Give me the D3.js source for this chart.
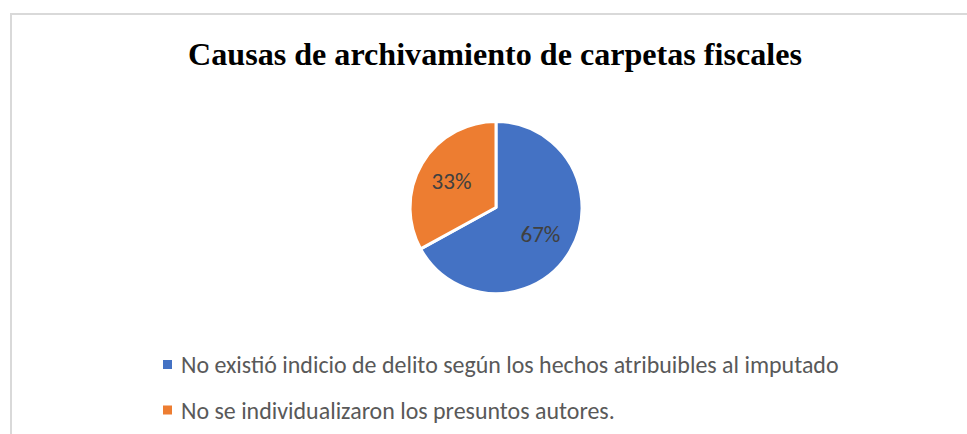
<!DOCTYPE html>
<html><head><meta charset="utf-8">
<script src="https://cdn.jsdelivr.net/npm/d3@7"></script>
<style>html,body{margin:0;padding:0;background:#fff;}svg{display:block;}</style>
</head><body>
<svg id="c" width="967" height="434"></svg>
<script>
const title = "Causas de archivamiento de carpetas fiscales";
const categories = ["No existió indicio de delito según los hechos atribuibles al imputado", "No se individualizaron los presuntos autores."];
const values = [67, 33];
const labels = ["67%", "33%"];
const colors = ["#4472C4", "#ED7D31"];

const svg = d3.select("#c");
svg.append("rect").attr("x", 11).attr("y", 14).attr("width", 1000).attr("height", 500)
  .attr("fill", "#fff").attr("stroke", "#d9d9d9").attr("stroke-width", 2);

function fit(sel, target) {
  const w = sel.node().getComputedTextLength();
  const fs = parseFloat(sel.attr("font-size"));
  sel.attr("font-size", fs * target / w);
}

const t = svg.append("text").attr("x", 495).attr("y", 65).attr("text-anchor", "middle")
  .attr("font-family", "'Liberation Serif','Times New Roman',serif").attr("font-weight", "bold")
  .attr("font-size", 32).attr("fill", "#000").text(title);
fit(t, 614);

const cx = 496, cy = 207.5, R = 86;
const pie = d3.pie().sort(null).value(d => d)(values);
const arc = d3.arc().innerRadius(0).outerRadius(R);
const labelArc = d3.arc().innerRadius(R * 0.6).outerRadius(R * 0.6);
const g = svg.append("g").attr("transform", `translate(${cx},${cy})`);
g.selectAll("path").data(pie).join("path")
  .attr("d", arc).attr("fill", (d, i) => colors[i])
  .attr("stroke", "#fff").attr("stroke-width", 3).attr("stroke-linejoin", "round");
const lt = g.selectAll("text").data(pie).join("text")
  .attr("transform", d => `translate(${labelArc.centroid(d)})`)
  .attr("text-anchor", "middle").attr("dominant-baseline", "central")
  .attr("font-family", "Carlito, Calibri, 'Open Sans', sans-serif")
  .attr("font-size", 21).attr("fill", "#404040")
  .text((d, i) => labels[i]);
{
  const w = lt.nodes()[1].getComputedTextLength();
  lt.attr("font-size", 21 * 40 / w);
}

const legY = [364.5, 410];
const lg = svg.append("g");
categories.forEach((c, i) => {
  lg.append("rect").attr("x", 163).attr("y", legY[i] - 4.5).attr("width", 9).attr("height", 9).attr("fill", colors[i]);
  const tx = lg.append("text").attr("x", 181).attr("y", legY[i]).attr("dominant-baseline", "central")
    .attr("font-family", "Carlito, Calibri, 'Open Sans', sans-serif")
    .attr("font-size", 20).attr("fill", "#595959").text(c);
  if (i === 0) fit(tx, 658);
  else tx.attr("font-size", lg.select("text").attr("font-size"));
});
</script>
</body></html>
